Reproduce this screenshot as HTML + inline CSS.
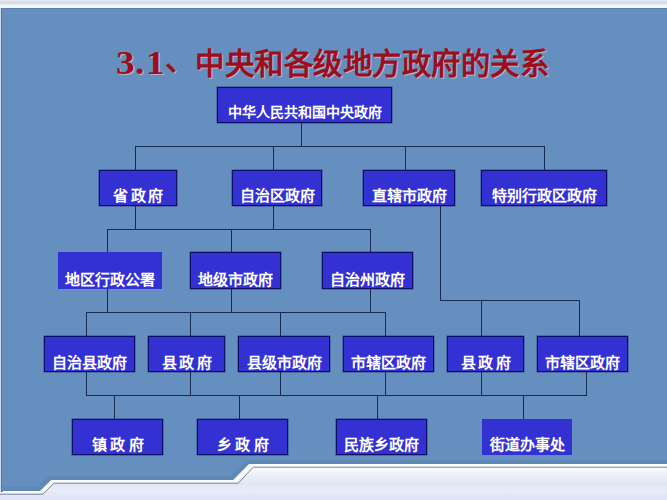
<!DOCTYPE html>
<html lang="zh-CN"><head><meta charset="utf-8">
<style>
*{margin:0;padding:0;box-sizing:border-box}
html,body{width:667px;height:500px;overflow:hidden;background:#eef2fa}
body{position:relative;font-family:"Liberation Serif",serif}
#bg{position:absolute;left:0;top:0;width:667px;height:500px;}
.h{position:absolute;height:1px;background:#162a52}
.v{position:absolute;width:1px;background:#162a52}
.b{position:absolute;background:#3431d2;color:#fff;font-weight:bold;text-align:center;white-space:nowrap}
.b.k{border:1px solid #0e0e62;box-shadow:0 0 0 0.4px rgba(14,14,98,.7)}
.b span{position:absolute;left:0;right:0;}
#title{position:absolute;left:117px;top:43.5px;font-size:29.6px;line-height:40px;font-weight:bold;color:#9c0e1c;white-space:nowrap;text-shadow:1px 1px 0 rgba(255,210,210,.55)}
.d{display:inline-block;width:15px;text-align:center;font-size:33px;transform:scaleX(1.12);position:relative;top:-1px}
.dn{position:absolute;left:48px;top:-4px}
.cj{position:absolute;left:78px;top:0;font-size:29.3px;letter-spacing:0.55px}
</style></head><body>
<svg id="bg" width="667" height="500" viewBox="0 0 667 500">
<defs>
<linearGradient id="lg" x1="0" y1="462" x2="0" y2="500" gradientUnits="userSpaceOnUse">
<stop offset="0" stop-color="#fbfdff"/><stop offset="0.2" stop-color="#f5f8fd"/><stop offset="0.38" stop-color="#ebedf8"/><stop offset="0.6" stop-color="#e0e6f5"/><stop offset="0.74" stop-color="#e9edf9"/><stop offset="1" stop-color="#dde3f6"/>
</linearGradient>
</defs>
<rect x="0" y="0" width="667" height="500" fill="url(#lg)"/>
<rect x="0" y="0" width="667" height="8" fill="#f1f8fa"/>
<rect x="0" y="0" width="667" height="1" fill="#e6eaf0"/>
<rect x="0" y="1" width="667" height="3" fill="#d8dde6"/>
<rect x="0" y="4" width="667" height="1" fill="#e6edf3"/>
<path d="M0 8 H667 V464 H249 L233 480 H51 L40 491 H0 Z" fill="#658fbe"/>
<path d="M0 489 H38.5 L49.5 478 H231.5 L247.5 462 H667" fill="none" stroke="#4a6890" stroke-opacity="0.18" stroke-width="4"/>
<path d="M0 492.3 H41.5 L52.5 481.3 H235.5 L251.2 465.3 H667" fill="none" stroke="#fbfdff" stroke-width="2.6"/>
<path d="M0 494.2 H43 L54 483.2 H238.3 L253.2 467.2 H667" fill="none" stroke="#7a8496" stroke-width="1"/>
<rect x="0" y="8" width="667" height="1" fill="#5d7898" fill-opacity="0.6"/>
<rect x="0" y="8" width="1" height="484" fill="#c4dcf4"/>
<rect x="1" y="8" width="1" height="484" fill="#5a7898"/>
<rect x="2" y="8" width="1" height="484" fill="#6e8cb0"/>
</svg>
<div id="title"><span class="d">3</span><span class="d">.</span><span class="d">1</span><span class="dn">、</span><span class="cj">中央和各级地方政府的关系</span></div>

<div class="h" style="left:135px;top:146px;width:410px"></div>
<div class="h" style="left:107px;top:229px;width:264px"></div>
<div class="h" style="left:440px;top:300px;width:140px"></div>
<div class="h" style="left:86px;top:312px;width:300px"></div>
<div class="h" style="left:86px;top:395px;width:501px"></div>
<div class="v" style="left:301px;top:123px;height:23px"></div>
<div class="v" style="left:135px;top:146px;height:24px"></div>
<div class="v" style="left:273px;top:146px;height:24px"></div>
<div class="v" style="left:405px;top:146px;height:24px"></div>
<div class="v" style="left:544px;top:146px;height:24px"></div>
<div class="v" style="left:135px;top:206px;height:23px"></div>
<div class="v" style="left:273px;top:206px;height:23px"></div>
<div class="v" style="left:107px;top:229px;height:24px"></div>
<div class="v" style="left:231px;top:229px;height:24px"></div>
<div class="v" style="left:370px;top:229px;height:24px"></div>
<div class="v" style="left:440px;top:206px;height:94px"></div>
<div class="v" style="left:481px;top:300px;height:36px"></div>
<div class="v" style="left:579px;top:300px;height:36px"></div>
<div class="v" style="left:107px;top:289px;height:23px"></div>
<div class="v" style="left:231px;top:289px;height:23px"></div>
<div class="v" style="left:370px;top:289px;height:23px"></div>
<div class="v" style="left:86px;top:312px;height:24px"></div>
<div class="v" style="left:190px;top:312px;height:24px"></div>
<div class="v" style="left:280px;top:312px;height:24px"></div>
<div class="v" style="left:385px;top:312px;height:24px"></div>
<div class="v" style="left:86px;top:372px;height:23px"></div>
<div class="v" style="left:190px;top:372px;height:23px"></div>
<div class="v" style="left:280px;top:372px;height:23px"></div>
<div class="v" style="left:385px;top:372px;height:23px"></div>
<div class="v" style="left:481px;top:372px;height:23px"></div>
<div class="v" style="left:586px;top:372px;height:23px"></div>
<div class="v" style="left:114px;top:395px;height:24px"></div>
<div class="v" style="left:239px;top:395px;height:24px"></div>
<div class="v" style="left:377px;top:395px;height:24px"></div>
<div class="v" style="left:523px;top:395px;height:24px"></div>
<div class="b k" style="left:217px;top:87px;width:175px;height:36px"><span style="top:16px;font-size:14px;line-height:18px;">中华人民共和国中央政府</span></div>
<div class="b k" style="left:99px;top:170px;width:78px;height:36px"><span style="top:15.5px;font-size:15px;line-height:19px;letter-spacing:2.5px;padding-left:2.5px;">省政府</span></div>
<div class="b k" style="left:232px;top:170px;width:90px;height:36px"><span style="top:15.5px;font-size:15px;line-height:19px;">自治区政府</span></div>
<div class="b k" style="left:363px;top:170px;width:92px;height:36px"><span style="top:15.5px;font-size:15px;line-height:19px;">直辖市政府</span></div>
<div class="b k" style="left:481px;top:170px;width:126px;height:36px"><span style="top:15.5px;font-size:15px;line-height:19px;">特别行政区政府</span></div>
<div class="b" style="left:58px;top:252px;width:104px;height:37px"><span style="top:19px;font-size:15px;line-height:19px;">地区行政公署</span></div>
<div class="b k" style="left:190px;top:252px;width:91px;height:37px"><span style="top:18px;font-size:15px;line-height:19px;">地级市政府</span></div>
<div class="b k" style="left:322px;top:252px;width:91px;height:37px"><span style="top:18px;font-size:15px;line-height:19px;">自治州政府</span></div>
<div class="b k" style="left:44px;top:336px;width:91px;height:36px"><span style="top:16.5px;font-size:15px;line-height:19px;">自治县政府</span></div>
<div class="b k" style="left:148px;top:336px;width:77px;height:36px"><span style="top:16.5px;font-size:15px;line-height:19px;letter-spacing:2.5px;padding-left:2.5px;">县政府</span></div>
<div class="b k" style="left:238px;top:336px;width:92px;height:36px"><span style="top:16.5px;font-size:15px;line-height:19px;">县级市政府</span></div>
<div class="b k" style="left:343px;top:336px;width:91px;height:36px"><span style="top:16.5px;font-size:15px;line-height:19px;">市辖区政府</span></div>
<div class="b k" style="left:447px;top:336px;width:77px;height:36px"><span style="top:16.5px;font-size:15px;line-height:19px;letter-spacing:2.5px;padding-left:2.5px;">县政府</span></div>
<div class="b k" style="left:537px;top:336px;width:91px;height:36px"><span style="top:16.5px;font-size:15px;line-height:19px;">市辖区政府</span></div>
<div class="b k" style="left:72px;top:419px;width:91px;height:36px"><span style="top:16px;font-size:15px;line-height:19px;letter-spacing:3.5px;padding-left:3.5px;">镇政府</span></div>
<div class="b k" style="left:197px;top:419px;width:91px;height:36px"><span style="top:16px;font-size:15px;line-height:19px;letter-spacing:3.5px;padding-left:3.5px;">乡政府</span></div>
<div class="b k" style="left:336px;top:419px;width:91px;height:36px"><span style="top:16px;font-size:15px;line-height:19px;">民族乡政府</span></div>
<div class="b" style="left:482px;top:419px;width:90px;height:36px"><span style="top:17px;font-size:15px;line-height:19px;">街道办事处</span></div>
</body></html>
